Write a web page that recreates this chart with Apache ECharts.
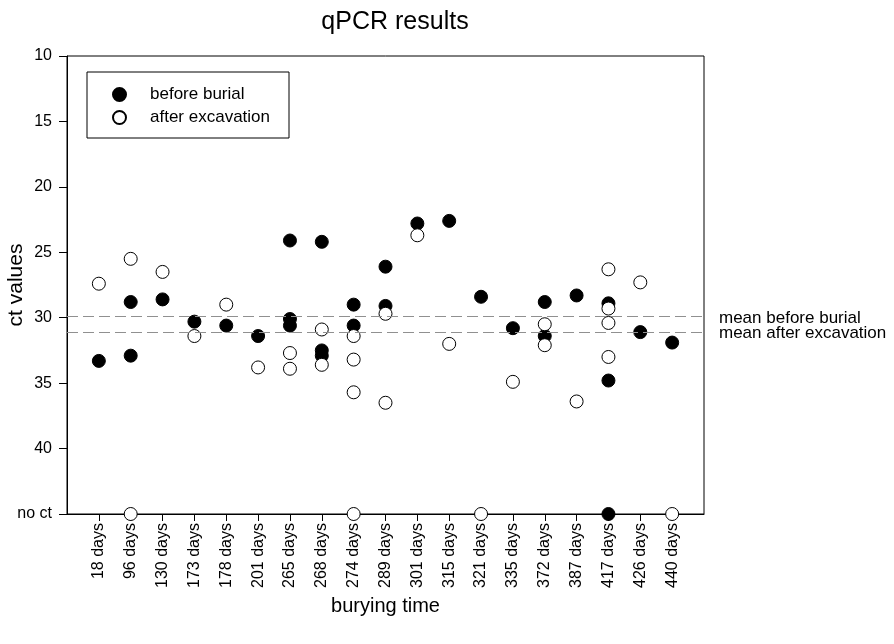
<!DOCTYPE html>
<html>
<head>
<meta charset="utf-8">
<script src="https://cdn.jsdelivr.net/npm/echarts@6/dist/echarts.min.js"></script>
<style>
  html, body { margin: 0; padding: 0; background: #fff; }
  #chart { width: 894px; height: 644px; }
</style>
</head>
<body>
<div id="chart"></div>
<script>
// categories on the x axis (padded with empty slots at both ends)
const categories = ['18 days', '96 days', '130 days', '173 days', '178 days', '201 days',
  '265 days', '268 days', '274 days', '289 days', '301 days', '315 days', '321 days',
  '335 days', '372 days', '387 days', '417 days', '426 days', '440 days'];

// ct values per burying time, 45 = "no ct"
const beforeBurial = [
  [33.3], [28.8, 32.9], [28.6], [30.3], [30.6], [31.4],
  [24.1, 30.1, 30.6], [24.2, 32.5, 32.9], [29.0, 30.6], [26.1, 29.1], [22.8], [22.6], [28.4],
  [30.8], [28.8, 31.4], [28.3], [28.9, 34.8, 45], [31.1], [31.9]
];
const afterExcavation = [
  [27.4], [25.5, 45], [26.5], [31.4], [29.0], [33.8],
  [32.7, 33.9], [30.9, 33.6], [31.4, 33.2, 35.7, 45], [29.7, 36.5], [23.7], [32.0], [45],
  [34.9], [30.5, 32.1], [36.4], [26.3, 29.3, 30.4, 33.0], [27.3], [45]
];

const meanBefore = 29.87;
const meanAfter = 31.09;

const yTicks = [10, 15, 20, 25, 30, 35, 40, 45];
const noCt = 45;

const font = "'Liberation Sans', Arial, sans-serif";

function toPoints(groups) {
  const pts = [];
  groups.forEach((vals, i) => vals.forEach((v) => pts.push([i + 1, v])));
  return pts;
}

const chart = echarts.init(document.getElementById('chart'));

const option = {
  animation: false,
  textStyle: { fontFamily: font, color: '#000' },
  title: {
    text: 'qPCR results',
    left: 390,
    textAlign: 'center',
    top: 5,
    textStyle: { fontFamily: font, fontSize: 25, fontWeight: 'normal', color: '#000' }
  },
  legend: {
    orient: 'vertical',
    left: 87,
    top: 72,
    borderColor: '#000',
    borderWidth: 1,
    padding: [14, 19, 12, 25],
    itemGap: 6,
    itemWidth: 13,
    itemHeight: 13,
    textStyle: { fontFamily: font, fontSize: 17, color: '#000', padding: [0, 0, 0, 19] },
    data: ['before burial', 'after excavation']
  },
  grid: {
    left: 67,
    right: 190,
    top: 56,
    bottom: 130,
    outerBoundsMode: 'none',
    show: true,
    borderColor: '#000',
    borderWidth: 1
  },
  xAxis: {
    type: 'category',
    boundaryGap: false,
    data: [''].concat(categories, ['']),
    name: 'burying time',
    nameLocation: 'middle',
    nameGap: 82,
    nameMoveOverlap: false,
    nameTextStyle: { fontFamily: font, fontSize: 20, color: '#000', verticalAlign: 'top' },
    axisLine: { lineStyle: { color: '#000', width: 1 } },
    axisTick: {
      length: 7,
      lineStyle: { color: '#000' },
      interval: (i) => i > 0 && i <= categories.length
    },
    axisLabel: {
      rotate: 90,
      margin: 9,
      fontSize: 16,
      color: '#000',
      fontFamily: font,
      interval: 0
    },
    splitLine: { show: false }
  },
  yAxis: {
    type: 'value',
    inverse: true,
    min: yTicks[0],
    max: yTicks[yTicks.length - 1],
    interval: 5,
    name: 'ct values',
    nameLocation: 'middle',
    nameGap: 40,
    nameMoveOverlap: false,
    nameTextStyle: { fontFamily: font, fontSize: 21, color: '#000' },
    axisLine: { show: true, lineStyle: { color: '#000', width: 1 } },
    axisTick: { show: true, length: 8, lineStyle: { color: '#000' } },
    axisLabel: {
      margin: 15,
      fontSize: 16,
      color: '#000',
      fontFamily: font,
      formatter: (v) => (v === noCt ? 'no ct' : String(v))
    },
    splitLine: { show: false }
  },
  series: [
    {
      name: 'before burial',
      type: 'scatter',
      symbol: 'circle',
      symbolSize: 13,
      itemStyle: { color: '#000', borderColor: '#000', borderWidth: 1, opacity: 1 },
      data: toPoints(beforeBurial),
      markLine: {
        silent: true,
        symbol: ['none', 'none'],
        lineStyle: { color: '#909090', type: [11, 5], width: 1.2 },
        label: {
          show: true,
          position: 'end',
          distance: 15,
          fontFamily: font,
          fontSize: 17,
          color: '#000'
        },
        data: [
          { yAxis: meanBefore, label: { formatter: 'mean before burial', offset: [0, 2] } },
          { yAxis: meanAfter, label: { formatter: 'mean after excavation', offset: [0, 1] } }
        ]
      }
    },
    {
      name: 'after excavation',
      type: 'scatter',
      symbol: 'circle',
      symbolSize: 13,
      itemStyle: { color: '#fff', borderColor: '#000', borderWidth: 1, opacity: 1 },
      data: toPoints(afterExcavation)
    }
  ]
};

chart.setOption(option);
</script>
</body>
</html>
